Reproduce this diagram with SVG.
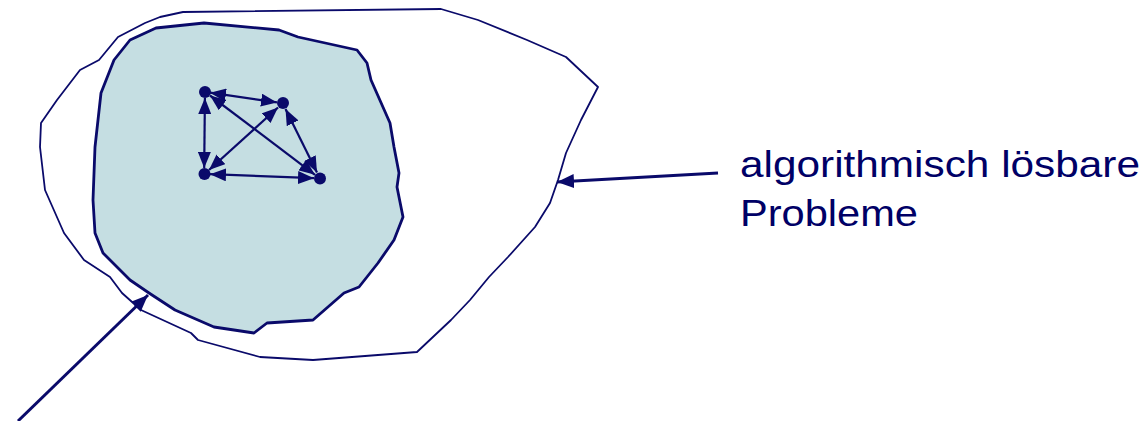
<svg xmlns="http://www.w3.org/2000/svg" width="1148" height="421" viewBox="0 0 1148 421">
<defs>
<style>
.blob-outer{fill:#ffffff;stroke:#0a0a6a;stroke-width:1.8;stroke-linejoin:round}
.blob-inner{fill:#c5dee2;stroke:#0a0a6a;stroke-width:2.8;stroke-linejoin:round}
.dot{fill:#0a0a6a}
.edge{stroke:#0a0a6a;stroke-width:2.2;fill:none;marker-start:url(#ah);marker-end:url(#ah)}
.pointer{stroke:#0a0a6a;stroke-width:3;fill:none;marker-end:url(#big)}
.label{font-family:"Liberation Sans",Arial,sans-serif;font-size:36px;fill:#000066}
</style>
<marker id="ah" markerUnits="userSpaceOnUse" markerWidth="16" markerHeight="13" refX="16" refY="6.5" orient="auto-start-reverse" viewBox="0 0 16 13">
<path d="M0,0 L16,6.5 L0,13 z" fill="#0a0a6a"/>
</marker>
<marker id="big" markerUnits="userSpaceOnUse" markerWidth="17" markerHeight="14" refX="17" refY="7" orient="auto" viewBox="0 0 17 14">
<path d="M0,0 L17,7 L0,14 z" fill="#0a0a6a"/>
</marker>
</defs>
<g id="outer-region">
<path class="blob-outer" d="M183,12 L441,9 L478,20 L527,40 L566,57 L598,87 L581,120 L566,153 L558,180 L550,203 L535,227 L508,257 L489,277 L470,300 L451,320 L417,352 L313,360 L260,357 L198,340 L191,333 L141,310 L122,293 L110,277 L84,260 L64,233 L45,190 L40,147 L41,123 L57,100 L80,70 L99,60 L118,37 L145,23 L160,17 Z"/>
</g>
<g id="inner-region">
<path class="blob-inner" d="M204,23 L279,30 L298,37 L357,50 L367,63 L371,80 L390,123 L394,147 L399,173 L397,187 L403,217 L394,240 L378,263 L359,287 L344,293 L313,320 L267,323 L254,333 L214,327 L175,310 L149,293 L130,280 L103,253 L95,233 L93,200 L95,147 L101,93 L114,60 L130,40 L156,28 Z"/>
</g>
<g id="connectors">
<line class="edge" x1="210" y1="92.7" x2="277" y2="102.4"/>
<line class="edge" x1="204.9" y1="98" x2="204.2" y2="168"/>
<line class="edge" x1="210" y1="95.5" x2="315" y2="174.8"/>
<line class="edge" x1="278" y1="107.5" x2="209" y2="170"/>
<line class="edge" x1="285.5" y1="109" x2="317" y2="172.5"/>
<line class="edge" x1="210" y1="174.2" x2="314" y2="178.2"/>
<line class="pointer" x1="718" y1="173" x2="557" y2="182"/>
<line class="pointer" x1="18" y1="421" x2="148" y2="295"/>
</g>
<g id="node-a"><circle class="dot" cx="205" cy="92" r="6"/></g>
<g id="node-b"><circle class="dot" cx="283" cy="103" r="6"/></g>
<g id="node-c"><circle class="dot" cx="204.5" cy="174" r="6"/></g>
<g id="node-d"><circle class="dot" cx="320" cy="178.5" r="6"/></g>
<g id="label">
<text class="label" x="740" y="177" textLength="400" lengthAdjust="spacingAndGlyphs">algorithmisch lösbare</text>
<text class="label" x="740" y="226" textLength="178" lengthAdjust="spacingAndGlyphs">Probleme</text>
</g>
</svg>
